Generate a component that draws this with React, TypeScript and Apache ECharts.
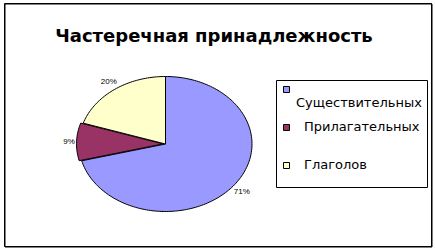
import React, { useEffect, useRef } from "react";
import * as echarts from "echarts";

const title = "Частеречная принадлежность";
const categories = ["Существительных", "Прилагательных", "Глаголов"];
const values = [71, 9, 20];
const colors = ["#9999FF", "#993366", "#FFFFCC"];

const CX = 165.5;
const CY = 144;
const RX = 86.5;
const RY = 67.5;

function arcPoints(a0: number, a1: number, dx: number, dy: number) {
  const pts: number[][] = [[CX + dx, CY + dy]];
  const n = Math.max(6, Math.ceil((a1 - a0) / (Math.PI / 120)));
  for (let i = 0; i <= n; i++) {
    const a = a0 + ((a1 - a0) * i) / n;
    pts.push([CX + dx + RX * Math.sin(a), CY + dy - RY * Math.cos(a)]);
  }
  return pts;
}

export default function App() {
  const ref = useRef<HTMLDivElement>(null);
  useEffect(() => {
    if (!ref.current) return;
    const chart = echarts.init(ref.current, null, { renderer: "svg" });
    const total = values.reduce((s, v) => s + v, 0);
    const legendLayout = [
      { sq: [283, 86], tx: [296, 102] },
      { sq: [283, 124], tx: [304, 126] },
      { sq: [283, 162], tx: [304, 164] },
    ];
    const graphic: any[] = [
      {
        type: "rect",
        shape: { x: 5, y: 4, width: 427, height: 243 },
        style: { fill: "none", stroke: "#000", lineWidth: 1 },
        silent: true,
      },
      {
        type: "rect",
        shape: { x: 4.5, y: 3.5, width: 427, height: 243 },
        style: { fill: "none", stroke: "#000", lineWidth: 1 },
        silent: true,
      },
      {
        type: "text",
        x: 214,
        y: 35,
        style: {
          text: title,
          fontFamily: "DejaVu Sans",
          fontWeight: "bold",
          fontSize: 18,
          fill: "#000",
          textAlign: "center",
          textVerticalAlign: "middle",
        },
      },
      {
        type: "rect",
        shape: { x: 276.5, y: 80.5, width: 151, height: 107 },
        style: { fill: "#fff", stroke: "#000", lineWidth: 1 },
      },
    ];
    categories.forEach((c, i) => {
      const l = legendLayout[i];
      graphic.push({
        type: "rect",
        shape: { x: l.sq[0] + 0.5, y: l.sq[1] + 0.5, width: 6, height: 6 },
        style: { fill: colors[i], stroke: "#000", lineWidth: 1 },
      });
      graphic.push({
        type: "text",
        x: l.tx[0],
        y: l.tx[1],
        style: {
          text: c,
          fontFamily: "DejaVu Sans",
          fontSize: 13,
          fill: "#000",
          textAlign: "left",
          textVerticalAlign: "middle",
        },
      });
    });

    chart.setOption({
      animation: false,
      backgroundColor: "#fff",
      graphic,
      series: [
        {
          type: "custom",
          coordinateSystem: "none",
          data: values.map((v, i) => ({ value: v, name: categories[i] })),
          renderItem: (params: any) => {
            const i = params.dataIndex;
            const before = values.slice(0, i).reduce((s, v) => s + v, 0);
            const a0 = (before / total) * Math.PI * 2;
            const a1 = ((before + values[i]) / total) * Math.PI * 2;
            const mid = (a0 + a1) / 2;
            const explode = i === 1 ? 2.5 : 0;
            const dx = explode * Math.sin(mid);
            const dy = -explode * Math.cos(mid);
            const d = 10;
            const lx = CX + (RX + d) * Math.sin(mid);
            const ly = CY - (RY + d) * Math.cos(mid);
            return {
              type: "group",
              children: [
                {
                  type: "polygon",
                  shape: { points: arcPoints(a0, a1, dx, dy) },
                  style: { fill: colors[i], stroke: "#000", lineWidth: 1 },
                },
                {
                  type: "text",
                  x: lx,
                  y: ly,
                  style: {
                    text: Math.round((values[i] / total) * 100) + "%",
                    fontFamily: "Liberation Sans",
                    fontSize: 8,
                    fill: "#000",
                    textAlign: "center",
                    textVerticalAlign: "middle",
                  },
                },
              ],
            };
          },
        },
      ],
    });
    return () => chart.dispose();
  }, []);
  return (
    <div
      ref={ref}
      style={{ position: "absolute", left: 0, top: 0, width: 435, height: 250 }}
    />
  );
}
